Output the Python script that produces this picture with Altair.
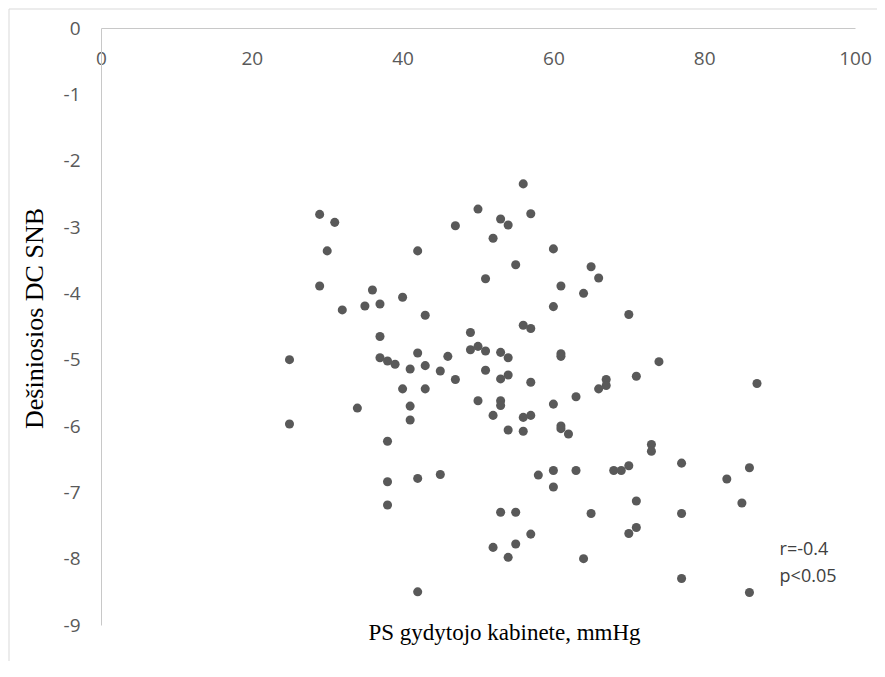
import altair as alt
import pandas as pd

# PS gydytojo kabinete (mmHg) and Dešiniosios DC SNB values
ps = [25, 25, 29, 31, 30, 29, 32, 35, 36, 37, 40, 43, 42, 47, 34, 37, 37, 38, 39, 40,
      41, 42, 43, 43, 41, 41, 38, 38, 38, 42, 45, 42, 45, 46, 47,
      49, 49, 50, 52, 53, 54, 57, 56, 60, 55, 51, 65, 66, 61, 64, 60, 70, 56, 57, 50,
      51, 53, 54, 61, 61, 74, 51, 53, 54, 57, 67, 67, 66, 71, 87, 63, 50, 53, 53, 60,
      52, 56, 57, 54, 56, 61, 61, 62, 73, 73, 77, 86, 83, 58, 60, 63, 68, 69, 70, 60,
      71, 85, 53, 55, 65, 77, 57, 52, 55, 54, 64, 71, 70, 77, 86]
dc = [-5.00, -5.97, -2.81, -2.93, -3.36, -3.89, -4.25, -4.19, -3.95, -4.16, -4.06, -4.33,
      -3.36, -2.98, -5.73, -4.65, -4.97, -5.02, -5.07, -5.44, -5.14, -4.90, -5.09, -5.44,
      -5.70, -5.91, -6.23, -7.19, -6.84, -6.79, -6.73, -8.50, -5.17, -4.95, -5.30,
      -4.59, -4.85, -2.73, -3.17, -2.88, -2.97, -2.80, -2.35, -3.33, -3.57, -3.78, -3.60,
      -3.77, -3.89, -4.00, -4.20, -4.32, -4.48, -4.53, -4.80, -4.87, -4.89, -4.97, -4.91,
      -4.95, -5.03, -5.16, -5.29, -5.23, -5.34, -5.30, -5.39, -5.44, -5.25, -5.36, -5.56,
      -5.62, -5.62, -5.69, -5.67, -5.84, -5.87, -5.84, -6.06, -6.08, -6.00, -6.04, -6.12,
      -6.28, -6.38, -6.56, -6.63, -6.80, -6.74, -6.67, -6.67, -6.67, -6.67, -6.60, -6.92,
      -7.13, -7.16, -7.30, -7.30, -7.32, -7.32, -7.63, -7.83, -7.78, -7.98, -8.00, -7.53,
      -7.62, -8.30, -8.51]

x_ticks = [0, 20, 40, 60, 80, 100]
y_ticks = [0, -1, -2, -3, -4, -5, -6, -7, -8, -9]
x_title = "PS gydytojo kabinete, mmHg"
y_title = "Dešiniosios DC SNB"
note_text = "r=-0.4\np<0.05"

W, H = 754, 597

df = pd.DataFrame({"ps": ps, "dc": dc})
one = pd.DataFrame({"k": [0]})

x_axis = alt.Axis(
    orient="bottom", offset=-H, values=x_ticks, ticks=False, grid=False,
    domainColor="#c8c8c8", domainWidth=1,
    labelFont="Open Sans", labelFontSize=19, labelColor="#595959",
    labelPadding=21, labelFlush=False, labelOverlap=False,
    title=x_title, titleFont="Liberation Serif", titleFontSize=23,
    titleFontWeight="normal", titleColor="#000000",
    titleX=403, titleY=611, titleAlign="center", titleBaseline="alphabetic",
)
y_axis = alt.Axis(
    values=y_ticks, ticks=False, grid=False,
    domainColor="#c8c8c8", domainWidth=1,
    labelFont="Open Sans", labelFontSize=19, labelColor="#595959",
    labelPadding=21, labelFlush=False, labelOverlap=False,
    labelExpr="'' + datum.value",
    title=y_title, titleFont="Liberation Serif", titleFontSize=26,
    titleFontWeight="normal", titleColor="#000000",
    titleX=-67, titleY=290, titleAngle=270, titleAlign="center",
    titleBaseline="middle",
)

points = alt.Chart(df).mark_circle(size=82, color="#595959", opacity=1).encode(
    x=alt.X("ps:Q", scale=alt.Scale(domain=[0, 100], nice=False, zero=False), axis=x_axis),
    y=alt.Y("dc:Q", scale=alt.Scale(domain=[-9, 0], nice=False, zero=False), axis=y_axis),
)

note = alt.Chart(one).mark_text(
    align="left", baseline="alphabetic", font="Open Sans", fontSize=18,
    color="#404040", lineBreak="\n", lineHeight=27,
).encode(
    x=alt.datum(90),
    y=alt.datum(-7.95),
    text=alt.value(note_text),
)

border_left = alt.Chart(one).mark_rule(color="#d9d9d9", strokeWidth=1).encode(
    x=alt.value(-92), y=alt.value(-19), y2=alt.value(H + 40)
)
border_top = alt.Chart(one).mark_rule(color="#d9d9d9", strokeWidth=1).encode(
    x=alt.value(-92), x2=alt.value(W + 22), y=alt.value(-19)
)

chart = alt.layer(border_left, border_top, points, note).properties(
    width=W, height=H,
    autosize=alt.AutoSizeParams(type="none"),
    padding={"left": 93, "top": 20, "right": 22, "bottom": 36},
).configure_view(strokeWidth=0)

chart.save("out.html", embed_options={"renderer": "svg", "actions": False})
